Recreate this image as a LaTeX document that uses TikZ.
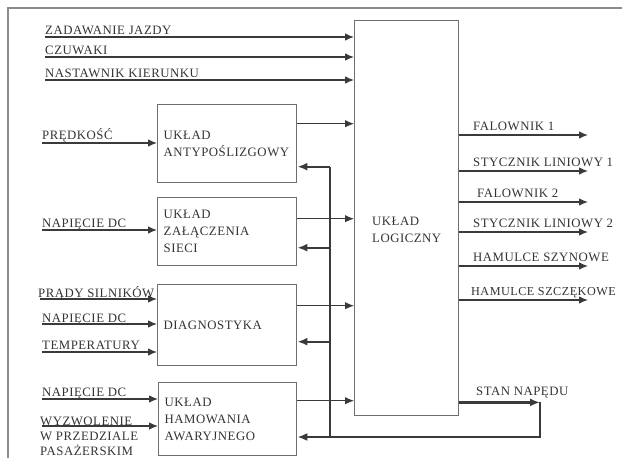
\documentclass[tikz,border=0pt]{standalone}
\usepackage{fontspec}
\setmainfont{Liberation Serif}[LetterSpace=4]
\usetikzlibrary{arrows.meta,positioning}
\definecolor{dgline}{HTML}{3A3A3A}
\definecolor{dgbox}{HTML}{6E6E6E}
\definecolor{dgtext}{HTML}{333333}

\begin{document}
\begin{tikzpicture}[x=1pt,y=-1pt,font=\fontsize{12.8}{17}\selectfont,
  blok/.style={rectangle,draw=dgbox,line width=1.4pt,align=left,inner xsep=6pt,inner ysep=0pt,anchor=north west,text=dgtext},
  lbl/.style={inner sep=0pt,anchor=base west,text=dgtext},
  sig/.style={-{Latex[length=9pt,width=7.5pt]},line width=1.1pt,dgline},
  fb/.style={-{Latex[length=10pt,width=8pt]},line width=2.2pt,dgline},
  bus/.style={line width=2.2pt,dgline}]
  \useasboundingbox (0,0) rectangle (622,458);
  \draw[line width=2.5pt,dgbox!80] (8,458) -- (8,8) -- (622,8);

  % bloki
  \node[blok,minimum width=104pt,minimum height=395pt] (logic) at (354,20) {};
  \node[lbl,anchor=north west,align=left] (logic-t) at (372,217) {UKŁAD\\LOGICZNY};
  \node[blok,text width=127pt,minimum height=78pt] (b1) at (157,104) {UKŁAD\\ANTYPOŚLIZGOWY};
  \node[blok,text width=127pt,minimum height=68pt] (b2) at (157,197) {UKŁAD\\ZAŁĄCZENIA\\SIECI};
  \node[blok,text width=127pt,minimum height=81pt] (b3) at (157,284) {DIAGNOSTYKA};
  \node[blok,text width=126pt,minimum height=73pt] (b4) at (158,382) {UKŁAD\\HAMOWANIA\\AWARYJNEGO};

  % wejscia ukladu logicznego
  \coordinate (zj) at (45,37);
  \coordinate (cz) at (45,57);
  \coordinate (nk) at (45,80);
  \node[lbl] (zj-t) at (45,34.5) {ZADAWANIE JAZDY};
  \node[lbl] (cz-t) at (45,54.5) {CZUWAKI};
  \node[lbl] (nk-t) at (45,77.5) {NASTAWNIK KIERUNKU};
  \draw[sig] (zj) -- (zj -| logic.west);
  \draw[sig] (cz) -- (cz -| logic.west);
  \draw[sig] (nk) -- (nk -| logic.west);

  % wejscia blokow
  \coordinate (pr) at (42,143);
  \coordinate (nd1) at (42,230);
  \coordinate (ps) at (40,299);
  \coordinate (nd2) at (42,324);
  \coordinate (tp) at (42,352);
  \coordinate (nd3) at (42,399);
  \coordinate (wz) at (42,426);
  \node[lbl] (pr-t) at (42,139.5) {PRĘDKOŚĆ};
  \node[lbl] (nd1-t) at (42,227) {NAPIĘCIE DC};
  \node[lbl] (ps-t) at (38,297) {PRĄDY SILNIKÓW};
  \node[lbl] (nd2-t) at (42,322) {NAPIĘCIE DC};
  \node[lbl] (tp-t) at (42,349) {TEMPERATURY};
  \node[lbl] (nd3-t) at (42,396) {NAPIĘCIE DC};
  \node[lbl,anchor=north west,align=left,font=\fontsize{12.8}{15}\selectfont] (wz-t) at (40,417) {WYZWOLENIE\\W PRZEDZIALE\\PASAŻERSKIM};
  \draw[sig] (pr) -- (pr -| b1.west);
  \draw[sig] (nd1) -- (nd1 -| b2.west);
  \draw[sig] (ps) -- (ps -| b3.west);
  \draw[sig] (nd2) -- (nd2 -| b3.west);
  \draw[sig] (tp) -- (tp -| b3.west);
  \draw[sig] (nd3) -- (nd3 -| b4.west);
  \draw[sig] (wz) -- (wz -| b4.west);

  % wyjscia blokow do ukladu logicznego
  \coordinate (b1o) at ([yshift=20pt]b1.east);
  \coordinate (b2o) at ([yshift=13pt]b2.east);
  \coordinate (b3o) at ([yshift=19.5pt]b3.east);
  \coordinate (b4o) at ([yshift=18.5pt]b4.east);
  \draw[sig] (b1o) -- (b1o -| logic.west);
  \draw[sig] (b2o) -- (b2o -| logic.west);
  \draw[sig] (b3o) -- (b3o -| logic.west);
  \draw[sig] (b4o) -- (b4o -| logic.west);

  % wyjscia ukladu logicznego
  \coordinate (f1) at (588,135);
  \coordinate (s1) at (588,171);
  \coordinate (f2) at (588,202);
  \coordinate (s2) at (588,232);
  \coordinate (hs) at (588,266);
  \coordinate (hk) at (588,300);
  \node[lbl] (f1-t) at (473,130.5) {FALOWNIK 1};
  \node[lbl] (s1-t) at (473,166.5) {STYCZNIK LINIOWY 1};
  \node[lbl] (f2-t) at (477,197.5) {FALOWNIK 2};
  \node[lbl] (s2-t) at (473,227.5) {STYCZNIK LINIOWY 2};
  \node[lbl] (hs-t) at (473,261.5) {HAMULCE SZYNOWE};
  \node[lbl,font=\fontsize{12.2}{17}\selectfont] (hk-t) at (471,295.5) {HAMULCE SZCZĘKOWE};
  \draw[sig] (f1 -| logic.east) -- (f1);
  \draw[sig] (s1 -| logic.east) -- (s1);
  \draw[sig] (f2 -| logic.east) -- (f2);
  \draw[sig] (s2 -| logic.east) -- (s2);
  \draw[sig] (hs -| logic.east) -- (hs);
  \draw[sig] (hk -| logic.east) -- (hk);

  % sprzezenie zwrotne: stan napedu
  \coordinate (so) at ([yshift=14pt]logic.south east);
  \coordinate (ret) at (540,437);
  \coordinate (junc) at (330,437);
  \coordinate (b1f) at ([yshift=-23pt]b1.east);
  \coordinate (b2f) at ([yshift=-16pt]b2.east);
  \coordinate (b3f) at ([yshift=-16.5pt]b3.east);
  \node[lbl] (so-t) at (476,395) {STAN NAPĘDU};
  \draw[fb] (so) -- (so -| ret);
  \draw[bus] (so -| ret) -- (ret) -- (junc);
  \draw[bus] (junc) -- (junc |- b1f);
  \draw[fb] (junc) -- (junc -| b4.east);
  \draw[fb] (junc |- b1f) -- (b1f);
  \draw[fb] (junc |- b2f) -- (b2f);
  \draw[fb] (junc |- b3f) -- (b3f);
\end{tikzpicture}
\end{document}
